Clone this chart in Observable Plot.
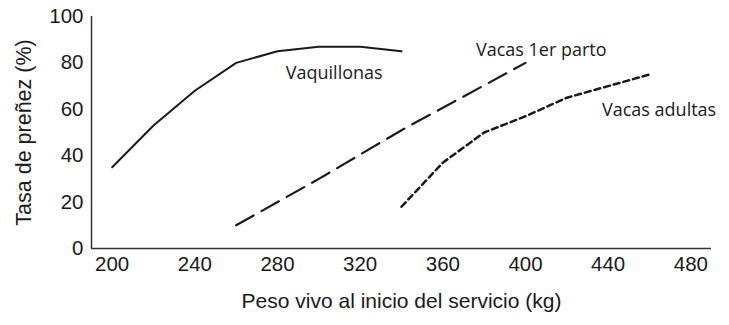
<!DOCTYPE html>
<html>
<head>
<meta charset="utf-8">
<script src="https://cdn.jsdelivr.net/npm/d3@7"></script>
<script src="https://cdn.jsdelivr.net/npm/@observablehq/plot@0.6"></script>
<style>
  html, body { margin: 0; padding: 0; background: #fff; }
</style>
</head>
<body>
<div id="chart"></div>
<script>
const vaquillonasPeso = [200, 220, 240, 260, 280, 300, 320, 340];
const vaquillonasTasa = [35, 53, 68, 80, 85, 87, 87, 85];
const primerPartoPeso = [260, 300, 340, 400];
const primerPartoTasa = [10, 30, 51, 80];
const adultasPeso = [340, 360, 380, 400, 420, 440, 460];
const adultasTasa = [18, 37, 50, 57, 65, 70, 75];
const xTicks = [200, 240, 280, 320, 360, 400, 440, 480];
const yTicks = [0, 20, 40, 60, 80, 100];
const seriesLabels = [
  {x: 284, y: 75.5, text: "Vaquillonas"},
  {x: 376, y: 85.5, text: "Vacas 1er parto"},
  {x: 437, y: 59.5, text: "Vacas adultas"}
];

const toRows = (xs, ys) => xs.map((x, i) => ({x, y: ys[i]}));
const vaq = toRows(vaquillonasPeso, vaquillonasTasa);
const pp = toRows(primerPartoPeso, primerPartoTasa);
const ad = toRows(adultasPeso, adultasTasa);

const ink = "#1a1a1a";
const chart = Plot.plot({
  width: 729,
  height: 325,
  marginLeft: 91,
  marginRight: 18,
  marginTop: 16,
  marginBottom: 77,
  style: {fontFamily: "Liberation Sans, Arial, sans-serif", background: "#fff", color: ink},
  x: {domain: [190, 490], axis: null},
  y: {domain: [0, 100], axis: null},
  marks: [
    Plot.text(xTicks, {x: d => d, frameAnchor: "bottom", lineAnchor: "top", textAnchor: "middle", dy: 8, fontSize: 20.5, fill: ink}),
    Plot.text(yTicks, {y: d => d, frameAnchor: "left", textAnchor: "end", lineAnchor: "middle", dx: -8, fontSize: 20.5, fill: ink}),
    Plot.text(["Peso vivo al inicio del servicio (kg)"], {frameAnchor: "bottom", lineAnchor: "middle", textAnchor: "middle", dy: 53, fontSize: 21, fill: ink}),
    Plot.text(["Tasa de preñez (%)"], {frameAnchor: "left", textAnchor: "middle", lineAnchor: "middle", dx: -67, rotate: -90, fontSize: 21.5, fill: ink}),
    Plot.ruleX([190], {stroke: "#333", strokeWidth: 1.5}),
    Plot.ruleY([0], {stroke: "#333", strokeWidth: 1.5}),
    Plot.line(vaq, {x: "x", y: "y", stroke: ink, strokeWidth: 2}),
    Plot.line(pp, {x: "x", y: "y", stroke: ink, strokeWidth: 2.2, strokeDasharray: "20,9"}),
    Plot.line(ad, {x: "x", y: "y", stroke: ink, strokeWidth: 2.5, strokeDasharray: "6,4"}),
    Plot.text(seriesLabels, {x: "x", y: "y", text: "text", textAnchor: "start", fontSize: 18, fontFamily: "Open Sans, sans-serif", fill: ink})
  ]
});
document.getElementById("chart").append(chart);
</script>
</body>
</html>
